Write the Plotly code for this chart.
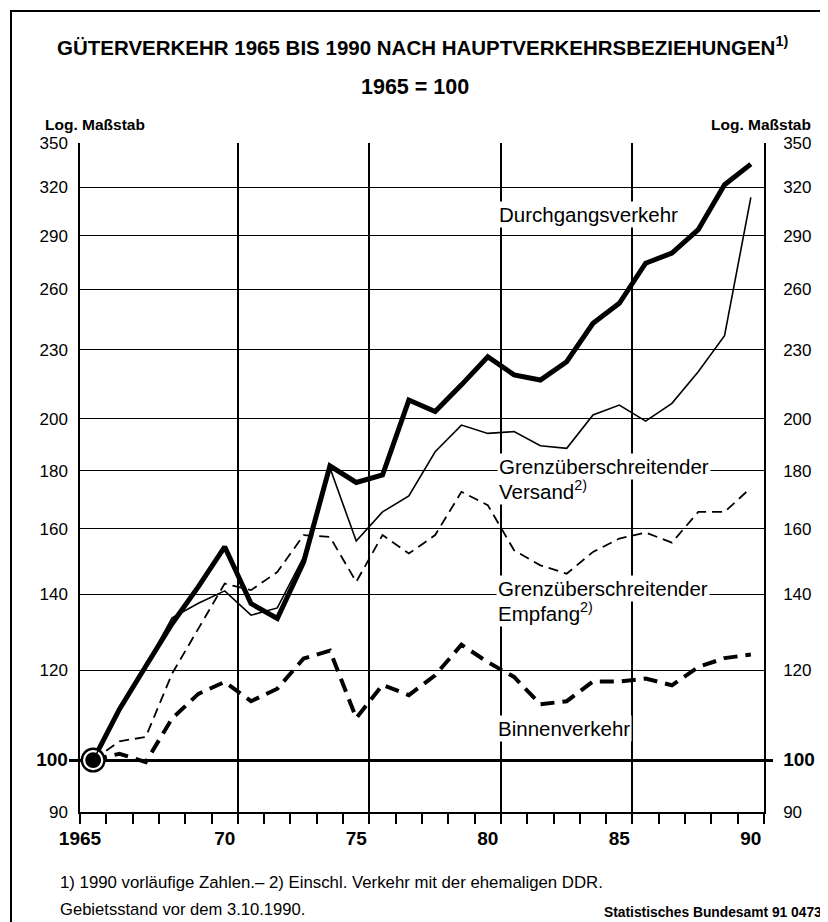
import math
import plotly.graph_objects as go

years = list(range(1965, 1991))

durchgang = [100.0, 110.9, 121.0, 131.9, 142.2, 154.2, 137.4, 133.3, 149.5, 181.7,
             175.7, 178.4, 207.7, 202.9, 214.2, 226.8, 218.6, 216.3, 224.5, 242.7,
             252.8, 274.2, 279.9, 293.5, 321.6, 335.3]
versand = [100.0, 110.5, 121.0, 133.5, 137.5, 141.0, 134.2, 136.2, 151.0, 181.0,
           156.0, 165.5, 171.0, 187.0, 197.4, 194.1, 194.8, 189.3, 188.3, 201.5,
           205.6, 199.0, 206.3, 220.0, 236.7, 313.4]
empfang = [100.0, 103.9, 104.8, 119.2, 130.6, 143.1, 141.2, 146.5, 157.9, 157.3,
           143.6, 157.9, 152.1, 157.9, 172.4, 167.8, 153.1, 148.5, 146.0, 152.6,
           156.8, 158.7, 155.5, 165.5, 165.5, 173.8]
binnen = [100.0, 101.3, 99.6, 108.8, 114.4, 117.2, 112.7, 115.6, 122.9, 124.9,
          108.9, 116.5, 114.1, 118.8, 126.4, 122.0, 118.4, 112.0, 112.7, 117.3,
          117.3, 118.0, 116.4, 120.8, 123.0, 123.9]

y_ticks = [90, 100, 120, 140, 160, 180, 200, 230, 260, 290, 320, 350]
y_ticktext = [("<span style='font-size:19px'><b>%d</b></span>" % v) if v == 100 else str(v)
              for v in y_ticks]
x_label_vals = [1964.5, 1970, 1975, 1980, 1985, 1990]
x_label_text = ["1965", "70", "75", "80", "85", "90"]
x_grid_vals = [1970.5, 1975.5, 1980.5, 1985.5]
x_minor_vals = [y - 0.5 for y in years] + [years[-1] + 0.5]

FONT = "Liberation Sans, Arial, Helvetica, sans-serif"
OFF = 8  # page body margin
W, H = 820, 914
L, R, T, B = 72, 64, 135, 110
PW, PH = W - L - R, H - T - B


def px(x):
    return (x - OFF - L) / PW


def py(y):
    return (H - B - (y - OFF)) / PH


fig = go.Figure()

fig.add_trace(go.Scatter(x=years, y=durchgang, mode="lines", xaxis="x", yaxis="y",
                         line=dict(color="black", width=5), hoverinfo="skip"))
fig.add_trace(go.Scatter(x=years, y=versand, mode="lines", xaxis="x2", yaxis="y",
                         line=dict(color="black", width=1.6), hoverinfo="skip"))
fig.add_trace(go.Scatter(x=years, y=empfang, mode="lines", xaxis="x", yaxis="y2",
                         line=dict(color="black", width=1.8, dash="10px,6px"), hoverinfo="skip"))
fig.add_trace(go.Scatter(x=years, y=binnen, mode="lines", xaxis="x", yaxis="y3",
                         line=dict(color="black", width=4, dash="14px,8px"), hoverinfo="skip"))
fig.add_trace(go.Scatter(x=years[:1], y=durchgang[:1], mode="markers", xaxis="x", yaxis="y4",
                         marker=dict(color="black", size=25, line=dict(width=0)), hoverinfo="skip"))
fig.add_trace(go.Scatter(x=years[:1], y=durchgang[:1], mode="markers", xaxis="x", yaxis="y4",
                         marker=dict(color="black", size=18, line=dict(color="white", width=2.2)),
                         hoverinfo="skip"))

xrange = [years[0] - 0.5, years[-1] + 0.5]
yrange = [math.log10(y_ticks[0]), math.log10(y_ticks[-1])]

fig.update_layout(
    width=W, height=H,
    margin=dict(l=L, r=R, t=T, b=B),
    paper_bgcolor="white", plot_bgcolor="white",
    showlegend=False,
    font=dict(family=FONT, color="black"),
    xaxis=dict(range=xrange, tickmode="array", tickvals=x_label_vals, ticktext=x_label_text,
               ticks="", showgrid=False, zeroline=False, showline=True, linecolor="black",
               linewidth=1.5, tickfont=dict(size=19, family=FONT, weight="bold"),
               ticklabelstandoff=8,
               minor=dict(tickmode="array", tickvals=x_minor_vals, ticks="outside",
                          ticklen=10, tickwidth=1.5, tickcolor="black", showgrid=False)),
    xaxis2=dict(range=xrange, overlaying="x", anchor="y", side="bottom", tickmode="array",
                tickvals=x_grid_vals, showticklabels=False, ticks="", showgrid=True,
                gridcolor="black", gridwidth=1.8, zeroline=False, showline=False),
    yaxis=dict(type="log", range=yrange, tickmode="array", tickvals=y_ticks, ticktext=y_ticktext,
               ticks="", showgrid=True, gridcolor="black", gridwidth=1.3, zeroline=False,
               showline=True, linecolor="black", linewidth=1.5,
               tickfont=dict(size=17, family=FONT), ticklabelstandoff=7),
    yaxis2=dict(type="log", range=yrange, overlaying="y", side="right", anchor="x",
                tickmode="array", tickvals=y_ticks, ticktext=y_ticktext, ticks="",
                showgrid=False, zeroline=False, showline=True, linecolor="black", linewidth=1.5,
                tickfont=dict(size=17, family=FONT), ticklabelstandoff=14),
    yaxis3=dict(type="log", range=yrange, overlaying="y", side="left", anchor="x",
                tickmode="array", tickvals=[100], showticklabels=False, ticks="outside",
                ticklen=10, tickwidth=2.5, tickcolor="black", showgrid=True,
                gridcolor="black", gridwidth=2.5, zeroline=False, showline=False),
    yaxis4=dict(type="log", range=yrange, overlaying="y", side="right", anchor="x",
                tickmode="array", tickvals=[100], showticklabels=False, ticks="outside",
                ticklen=8, tickwidth=2.5, tickcolor="black", showgrid=False,
                zeroline=False, showline=False),
)

# outer frame (left and top edges visible)
fig.add_shape(type="rect", xref="paper", yref="paper", x0=px(11), x1=px(900), y0=py(1000), y1=py(11),
              line=dict(color="black", width=2), fillcolor="rgba(0,0,0,0)", layer="below")

anns = [
    dict(text="<b>GÜTERVERKEHR 1965 BIS 1990 NACH HAUPTVERKEHRSBEZIEHUNGEN<sup>1)</sup></b>",
         x=px(422), y=py(46), xanchor="center", yanchor="middle", size=20.5),
    dict(text="<b>1965 = 100</b>", x=px(415), y=py(87), xanchor="center", yanchor="middle", size=21.5),
    dict(text="<b>Log. Maßstab</b>", x=px(43), y=py(124), xanchor="left", yanchor="middle", size=15.5),
    dict(text="<b>Log. Maßstab</b>", x=px(813), y=py(124), xanchor="right", yanchor="middle", size=15.5),
    dict(text="1) 1990 vorläufige Zahlen.– 2) Einschl. Verkehr mit der ehemaligen DDR.",
         x=px(58), y=py(882), xanchor="left", yanchor="middle", size=16.8),
    dict(text="Gebietsstand vor dem 3.10.1990.", x=px(58), y=py(910), xanchor="left",
         yanchor="middle", size=16.6),
    dict(text="<b>Statistisches Bundesamt 91 0473</b>", x=px(824), y=py(912), xanchor="right",
         yanchor="middle", size=13.8),
]
for a in anns:
    fig.add_annotation(text=a["text"], x=a["x"], y=a["y"], xref="paper", yref="paper",
                       xanchor=a["xanchor"], yanchor=a["yanchor"], showarrow=False,
                       font=dict(size=a["size"], family=FONT, color="black"))

# second lines first, so the first lines (on the gridlines) are drawn on top
labels = [
    ("Durchgangsverkehr", 497, 214),
    ("Versand<sup>2)</sup>", 497, 490),
    ("Grenzüberschreitender", 497, 466),
    ("Empfang<sup>2)</sup>", 496, 612),
    ("Grenzüberschreitender", 496, 588),
    ("Binnenverkehr", 496, 728),
]
for txt, lx, ly in labels:
    fig.add_annotation(text=txt, x=px(lx), y=py(ly), xref="paper", yref="paper",
                       xanchor="left", yanchor="middle", showarrow=False,
                       bgcolor="white", borderpad=1,
                       font=dict(size=20.5, family=FONT, color="black"))

fig.write_html("out.html")
